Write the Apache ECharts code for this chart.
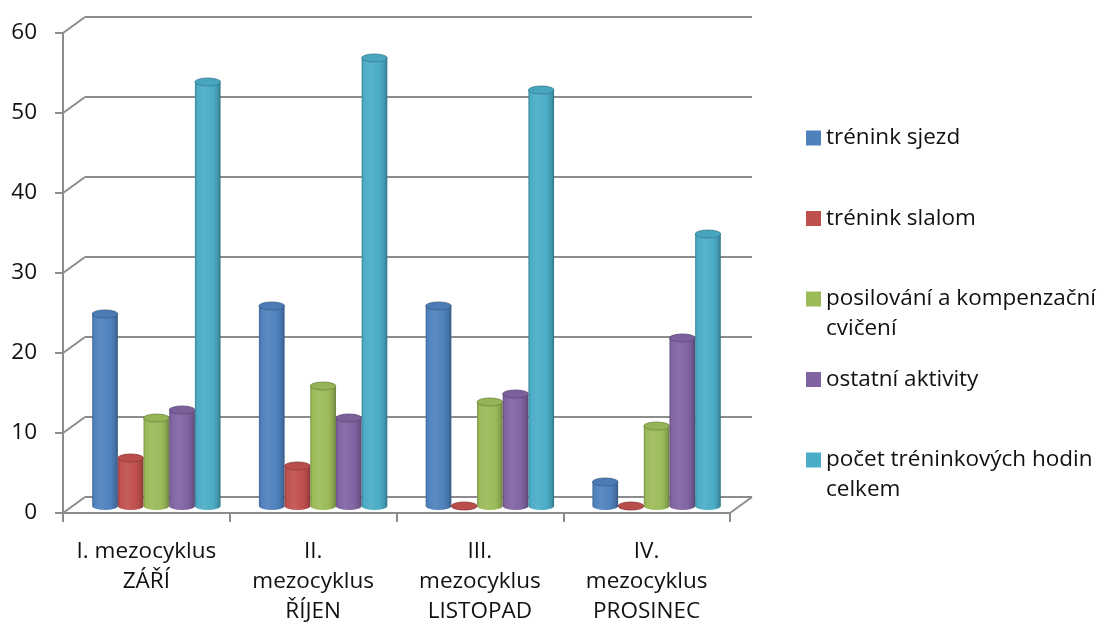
<!DOCTYPE html>
<html>
<head>
<meta charset="utf-8">
<script src="https://cdn.jsdelivr.net/npm/echarts@6/dist/echarts.min.js"></script>
<style>
  html, body { margin: 0; padding: 0; background: #fff; }
  #chart { width: 1109px; height: 622px; }
</style>
</head>
<body>
<div id="chart"></div>
<script>
// Training hours per mesocycle
const categories = [
  'I. mezocyklus\nZÁŘÍ',
  'II.\nmezocyklus\nŘÍJEN',
  'III.\nmezocyklus\nLISTOPAD',
  'IV.\nmezocyklus\nPROSINEC'
];
const seriesNames = [
  'trénink sjezd',
  'trénink slalom',
  'posilování a kompenzační\ncvičení',
  'ostatní aktivity',
  'počet tréninkových hodin\ncelkem'
];
const sjezd      = [24, 25, 25, 3];
const slalom     = [6, 5, 0, 0];
const posilovani = [11, 15, 13, 10];
const ostatni    = [12, 11, 14, 21];
const celkem     = [53, 56, 52, 34];
const valueTicks = [0, 10, 20, 30, 40, 50, 60];

const seriesValues = [sjezd, slalom, posilovani, ostatni, celkem];
const colors = ['#4F81BD', '#C0504D', '#9BBB59', '#8064A2', '#4BACC6'];

const FONT = '"Open Sans", "Noto Sans", sans-serif';
const FONT_SIZE = 22.5;
const LINE = '#8c8c8c';
// depth of the pseudo-3D box (back wall offset)
const DEPTH_X = 22, DEPTH_Y = -16;
// cylinders stand roughly in the middle of the floor depth
const BAR_DX = 10, BAR_DY = -7;
const BAR_RATIO = 0.154;   // bar width relative to category width
const CAP_RY = 4;

// legend rows: first-line centre of each entry
const LEGEND_FIRST = 138, LEGEND_STEP = 80.5;

function mix(hex, target, t) {
  const n = parseInt(hex.slice(1), 16);
  const r = (n >> 16) & 255, g = (n >> 8) & 255, b = n & 255;
  const m = c => Math.round(c + (target - c) * t);
  return 'rgb(' + m(r) + ',' + m(g) + ',' + m(b) + ')';
}
const shade = (hex, t) => mix(hex, 0, t);
const tint = (hex, t) => mix(hex, 255, t);

function ellipsePath(cx, cy, rx, ry) {
  return 'M' + (cx - rx) + ' ' + cy +
    ' A' + rx + ' ' + ry + ' 0 1 0 ' + (cx + rx) + ' ' + cy +
    ' A' + rx + ' ' + ry + ' 0 1 0 ' + (cx - rx) + ' ' + cy + ' Z';
}

function cylinderRenderer(si) {
  const base = colors[si];
  const bodyFill = {
    type: 'linear', x: 0, y: 0, x2: 1, y2: 0,
    colorStops: [
      { offset: 0, color: shade(base, 0.22) },
      { offset: 0.08, color: base },
      { offset: 0.35, color: tint(base, 0.08) },
      { offset: 0.72, color: base },
      { offset: 0.9, color: shade(base, 0.14) },
      { offset: 1, color: shade(base, 0.32) }
    ]
  };
  return function (params, api) {
    const cat = api.value(0), val = api.value(1);
    const pTop = api.coord([cat, val]);
    const pBase = api.coord([cat, 0]);
    const bw = api.size([1, 0])[0] * BAR_RATIO;
    const cx = pTop[0] + BAR_DX + (si - 2) * bw;
    const rx = bw * 0.5;
    const yTop = pTop[1] + BAR_DY;
    const yBot = pBase[1] + BAR_DY;
    const x0 = cx - rx, x1 = cx + rx;
    const body = 'M' + x0 + ' ' + yTop + ' L' + x0 + ' ' + yBot +
      ' A' + rx + ' ' + CAP_RY + ' 0 0 0 ' + x1 + ' ' + yBot +
      ' L' + x1 + ' ' + yTop + ' Z';
    return {
      type: 'group',
      children: [
        { type: 'path', shape: { pathData: body }, style: { fill: bodyFill, stroke: null } },
        {
          type: 'path', shape: { pathData: ellipsePath(cx, yTop, rx, CAP_RY) },
          style: { fill: shade(base, 0.04), stroke: shade(base, 0.28), lineWidth: 0.8 }
        }
      ]
    };
  };
}

// side-wall and floor edges of the box
function frameRenderer(params, api) {
  const v = api.value(1);
  const cs = params.coordSys;
  const y = api.coord([0, v])[1];
  const lines = [{
    type: 'line',
    shape: { x1: cs.x, y1: y, x2: cs.x + DEPTH_X, y2: y + DEPTH_Y },
    style: { stroke: LINE, lineWidth: 2 }
  }];
  if (v === 0) {
    lines.push({
      type: 'line',
      shape: { x1: cs.x + cs.width, y1: y, x2: cs.x + cs.width + DEPTH_X, y2: y + DEPTH_Y },
      style: { stroke: LINE, lineWidth: 2 }
    });
  }
  return { type: 'group', children: lines };
}

const chart = echarts.init(document.getElementById('chart'));

const barSeries = seriesValues.map((vals, si) => ({
  name: seriesNames[si],
  type: 'custom',
  xAxisIndex: 0,
  yAxisIndex: 0,
  clip: false,
  z: 5,
  itemStyle: { color: colors[si] },
  encode: { x: 0, y: 1 },
  renderItem: cylinderRenderer(si),
  data: vals.map((v, i) => [i, v])
}));

// one legend block per series; wrapped entries get leading blank lines
// so that the icon stays level with their first line
const legends = seriesNames.map((name, i) => {
  const extraLines = name.split('\n').length - 1;
  const iconCenter = LEGEND_FIRST + i * LEGEND_STEP;
  return {
    orient: 'vertical',
    left: 806,
    top: iconCenter - 15 - extraLines * 30,
    padding: 0,
    itemWidth: 15,
    itemHeight: 15,
    icon: 'rect',
    selectedMode: false,
    data: [name],
    formatter: n => '\n'.repeat(extraLines) + n,
    textStyle: {
      fontSize: FONT_SIZE, lineHeight: 30,
      color: '#111', fontFamily: FONT
    }
  };
});

const option = {
  animation: false,
  color: colors,
  textStyle: { fontFamily: FONT },
  grid: [
    { left: 63, top: 33, width: 667, height: 480, outerBoundsMode: 'none', containLabel: false },
    { left: 63 + DEPTH_X, top: 33 + DEPTH_Y, width: 667, height: 480, outerBoundsMode: 'none', containLabel: false }
  ],
  xAxis: [
    {
      type: 'category',
      gridIndex: 0,
      data: categories,
      axisLine: { show: true, lineStyle: { color: LINE, width: 2 } },
      axisTick: { show: true, length: 9, lineStyle: { color: LINE, width: 2 } },
      axisLabel: {
        interval: 0, margin: 24, fontSize: FONT_SIZE, lineHeight: 30,
        color: '#111', fontFamily: FONT
      }
    },
    { type: 'category', gridIndex: 1, data: categories, show: false }
  ],
  yAxis: [
    {
      type: 'value',
      gridIndex: 0,
      min: 0, max: 60, interval: 10,
      axisLine: { show: true, lineStyle: { color: LINE, width: 2 } },
      axisTick: { show: true, length: 8, lineStyle: { color: LINE, width: 2 } },
      splitLine: { show: false },
      axisLabel: { margin: 26, fontSize: FONT_SIZE, color: '#111', fontFamily: FONT }
    },
    {
      type: 'value',
      gridIndex: 1,
      min: 0, max: 60, interval: 10,
      axisLine: { show: false },
      axisTick: { show: false },
      axisLabel: { show: false },
      splitLine: { show: true, lineStyle: { color: LINE, width: 2 } }
    }
  ],
  legend: legends,
  series: [
    {
      name: 'frame',
      type: 'custom',
      xAxisIndex: 0,
      yAxisIndex: 0,
      clip: false,
      silent: true,
      z: 1,
      encode: { x: 0, y: 1 },
      renderItem: frameRenderer,
      data: valueTicks.map(v => [0, v])
    }
  ].concat(barSeries)
};

chart.setOption(option);
</script>
</body>
</html>
